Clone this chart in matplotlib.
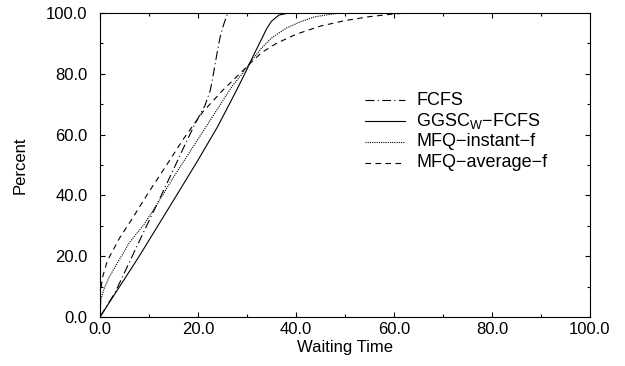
import matplotlib
matplotlib.use("Agg")
import matplotlib.pyplot as plt
from matplotlib.lines import Line2D

plt.rcParams['font.family'] = ['Liberation Sans', 'DejaVu Sans']
plt.rcParams['mathtext.default'] = 'regular'

# ---- data ----
fcfs_x = [0, 1.5, 3, 5, 7.8, 10, 12.5, 15.5, 17, 19.4, 21.4, 22.5, 23.1, 23.8, 24.5, 25.2, 25.9, 26.5, 100]
fcfs_y = [0, 4, 7.8, 14.6, 24.2, 31.6, 40, 50.3, 55.5, 63.6, 69.5, 74.5, 79.6, 86, 92, 96, 99.3, 100, 100]

ggsc_x = [0, 4, 8, 12, 16, 20, 24, 28, 30, 31, 33, 34, 35, 36.5, 38.5, 100]
ggsc_y = [0, 10, 20, 30.5, 41, 51.6, 62.6, 75, 81.5, 85, 91.5, 94.8, 97.3, 99.3, 100, 100]

inst_x = [0, 0.2, 1, 2, 4, 6, 9, 12, 15, 18, 21, 24, 27, 29, 31, 33, 35, 38, 41, 44, 48, 50, 100]
inst_y = [0, 6, 10, 13.5, 19, 24.5, 30.5, 38, 46, 53.5, 61, 68.5, 76, 80, 84.5, 88.5, 91.8, 95, 97.2, 98.8, 99.8, 100, 100]

avg_x = [0, 0.1, 0.5, 1.5, 2.5, 4, 6.4, 9.8, 14, 17, 21, 25, 28.5, 31, 33, 36, 40, 45, 50, 55, 60, 63, 100]
avg_y = [0, 8, 13, 18.5, 21.5, 26, 31.9, 40.7, 51, 58.5, 67.5, 74.5, 80, 84, 87, 90, 93, 95.7, 97.5, 98.8, 99.7, 100, 100]

labels = ['FCFS', r'GGSC$_{W}$−FCFS', 'MFQ−instant−f', 'MFQ−average−f']
xticks = [0, 20, 40, 60, 80, 100]
yticks = [0, 20, 40, 60, 80, 100]

# ---- figure ----
fig = plt.figure(figsize=(6.25, 3.66), dpi=100)
ax = fig.add_axes([0.16, 1 - 317 / 366, (590 - 100) / 625, (317 - 13) / 366])

lw = 0.8
styles = [
    dict(linestyle=(0, (8, 3, 1, 3)), color='black', linewidth=lw),
    dict(linestyle='-', color='black', linewidth=lw),
    dict(linestyle=(0, (1, 1)), color='black', linewidth=lw),
    dict(linestyle=(0, (5, 4)), color='black', linewidth=lw),
]
series = [(fcfs_x, fcfs_y), (ggsc_x, ggsc_y), (inst_x, inst_y), (avg_x, avg_y)]
for (xs, ys), st in zip(series, styles):
    ax.plot(xs, ys, **st)

ax.set_xlim(0, 100)
ax.set_ylim(0, 100)
ax.set_xticks(xticks)
ax.set_yticks(yticks)
ax.set_xticklabels([f"{v:.1f}" for v in xticks])
ax.set_yticklabels([f"{v:.1f}" for v in yticks])
ax.set_xticks([10, 30, 50, 70, 90], minor=True)
ax.set_yticks([10, 30, 50, 70, 90], minor=True)
ax.tick_params(which='both', direction='in', top=True, right=True, labelsize=12, width=0.8)
ax.tick_params(which='major', length=3.6)
ax.tick_params(which='minor', length=2.2)
ax.tick_params(axis='x', pad=3.5)
ax.tick_params(axis='y', pad=9)
for s in ax.spines.values():
    s.set_linewidth(0.8)

ax.set_xlabel('Waiting Time', fontsize=12, labelpad=2)
ax.set_ylabel('Percent', fontsize=12, labelpad=13)

# manual legend (positions in figure pixels)
W, H = 625, 366
row_y = [100, 121, 142, 163]
for lab, st, yy in zip(labels, styles, row_y):
    fig.add_artist(Line2D([365 / W, 405 / W], [1 - yy / H, 1 - yy / H],
                          transform=fig.transFigure, **st))
    fig.text(416.5 / W, 1 - yy / H, lab, fontsize=13, va='center', ha='left')

fig.savefig('out.png', dpi=100)
